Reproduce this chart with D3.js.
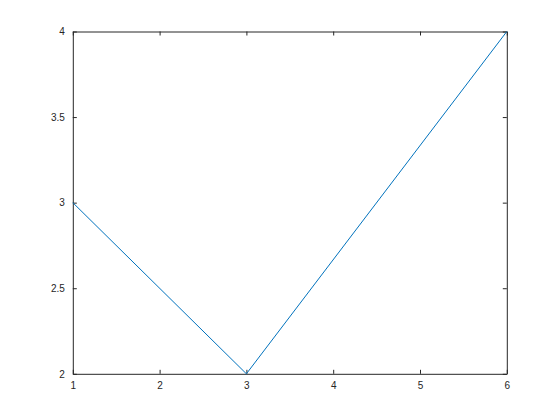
<!DOCTYPE html>
<html>
<head>
<meta charset="utf-8">
<script src="https://cdn.jsdelivr.net/npm/d3@7"></script>
<style>
  body { margin: 0; background: #fff; }
  .axis text { font-family: 'Liberation Sans', Arial, sans-serif; font-size: 10px; fill: #262626; }
  .axis path, .axis line { stroke: #262626; stroke-width: 1; }
</style>
</head>
<body>
<div id="chart"></div>
<script>
const xValues = [1, 3, 6]
const yValues = [3, 2, 4]
const xTicks = [1, 2, 3, 4, 5, 6]
const yTicks = [2, 2.5, 3, 3.5, 4]

const w = 560
const h = 420
const margin = {top: 31.5, right: 53.2, bottom: 46.2, left: 72.8}
const width = w - margin.left - margin.right
const height = h - margin.top - margin.bottom

const data = xValues.map((x, i) => ({x: x, y: yValues[i]}))

const svg = d3.select('#chart').append('svg')
  .attr('width', w)
  .attr('height', h)

const g = svg.append('g').attr('transform', 'translate(' + margin.left + ',' + margin.top + ')')

const x = d3.scaleLinear().domain([1, 6]).range([0, width])
const y = d3.scaleLinear().domain([2, 4]).range([height, 0])

const fmt = d => String(d)

// bottom + left with labels, top + right as mirrored ticks
g.append('g')
  .attr('class', 'axis axis--x')
  .attr('transform', 'translate(0,' + height + ')')
  .call(d3.axisBottom(x).tickValues(xTicks).tickFormat(fmt).tickSizeInner(-4).tickSizeOuter(0).tickPadding(8))

g.append('g')
  .attr('class', 'axis axis--x2')
  .call(d3.axisTop(x).tickValues(xTicks).tickFormat('').tickSizeInner(-4).tickSizeOuter(0))

g.append('g')
  .attr('class', 'axis axis--y')
  .call(d3.axisLeft(y).tickValues(yTicks).tickFormat(fmt).tickSizeInner(-4).tickSizeOuter(0).tickPadding(8))

g.append('g')
  .attr('class', 'axis axis--y2')
  .attr('transform', 'translate(' + width + ',0)')
  .call(d3.axisRight(y).tickValues(yTicks).tickFormat('').tickSizeInner(-4).tickSizeOuter(0))

const line = d3.line()
  .x(d => x(d.x))
  .y(d => y(d.y))

g.append('path')
  .datum(data)
  .attr('fill', 'none')
  .attr('stroke', '#0072bd')
  .attr('stroke-width', 1)
  .attr('d', line)
</script>
</body>
</html>
